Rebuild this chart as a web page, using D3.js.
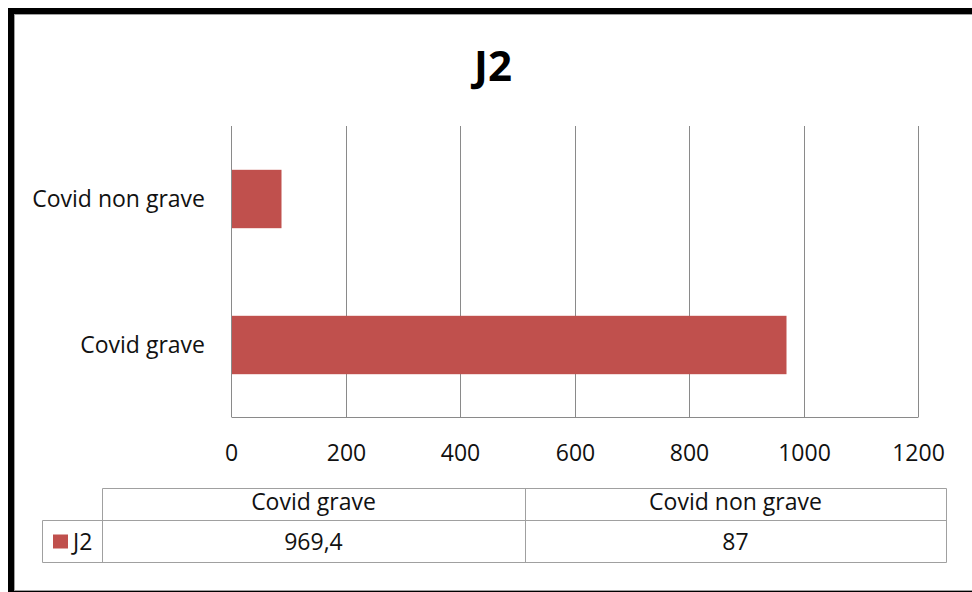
<!DOCTYPE html>
<html>
<head>
<meta charset="utf-8">
<script src="https://cdn.jsdelivr.net/npm/d3@7/dist/d3.min.js"></script>
<style>
  html, body { margin: 0; padding: 0; background: #fff; }
  svg { display: block; }
  text { font-family: "Open Sans", "Noto Sans", sans-serif; fill: #111; }
</style>
</head>
<body>
<svg id="chart" width="972" height="592"></svg>
<script>
// Data: J2 totals per category
const title = "J2";
const seriesName = "J2";
const categories = ["Covid grave", "Covid non grave"];
const values = [969.4, 87];
const xTicks = [0, 200, 400, 600, 800, 1000, 1200];

const barColor = "#C0504D";
const gridColor = "#8a8a8a";
const tableColor = "#a0a0a0";

const svg = d3.select("#chart");

// Outer frame: dark band on top/left, thin grey border around the white chart area
svg.append("rect").attr("x", 8).attr("y", 8).attr("width", 964).attr("height", 584).attr("fill", "#000");
svg.append("rect").attr("x", 14.5).attr("y", 14.5).attr("width", 980).attr("height", 576)
  .attr("fill", "#fff").attr("stroke", "#a0a0a0").attr("stroke-width", 1);

// Title
svg.append("text").attr("x", 493).attr("y", 80.5).attr("text-anchor", "middle")
  .style("font-size", "42px").style("font-weight", 700).style("fill", "#000")
  .text(title);

// Scales
const plotTop = 126, plotBottom = 417;
const x = d3.scaleLinear().domain([0, 1200]).rangeRound([231, 918]);
const rows = categories.slice().reverse(); // last category drawn at the top
const y = d3.scaleBand().domain(rows).range([plotTop, plotBottom + 1])
  .paddingInner(0.6).paddingOuter(0.3);

// Vertical gridlines + baseline
const grid = svg.append("g").attr("transform", `translate(0,${plotBottom})`)
  .call(d3.axisBottom(x).tickValues(xTicks).tickSize(-(plotBottom - plotTop)).tickSizeOuter(0).tickFormat(""));
grid.selectAll("line").attr("stroke", gridColor);
grid.select(".domain").attr("stroke", gridColor);

// Bars
svg.append("g").selectAll("rect")
  .data(categories.map((c, i) => ({ c, v: values[i] })))
  .join("rect")
  .attr("x", x(0) + 1)
  .attr("y", d => y(d.c))
  .attr("width", d => x(d.v) - x(0) - 0.5)
  .attr("height", y.bandwidth())
  .attr("fill", barColor);

// X tick labels
const xAxis = svg.append("g").attr("transform", `translate(0,${plotBottom})`)
  .call(d3.axisBottom(x).tickValues(xTicks).tickSize(0).tickPadding(0).tickFormat(d3.format("d")));
xAxis.select(".domain").remove();
xAxis.selectAll("text").attr("y", 44).attr("dy", 0)
  .style("font-size", "23px").style("font-family", "'Open Sans', sans-serif").attr("fill", "#111");

// Category labels
const yAxis = svg.append("g").attr("transform", `translate(${x(0)},0)`)
  .call(d3.axisLeft(y).tickSize(0).tickPadding(0));
yAxis.select(".domain").attr("stroke", gridColor).attr("d", `M0.5,${plotTop}V${plotBottom}`);
yAxis.selectAll("text").attr("x", -26).attr("dy", "0.35em")
  .style("font-size", "23px").style("font-family", "'Open Sans', sans-serif").attr("fill", "#111");

// Data table below the axis
const tLeft = 102.5, tRight = 946.5, legLeft = 42.5;
const hTop = 488.5, hBot = 520.5, rBot = 562.5;
const col = d3.scaleBand().domain(categories).range([tLeft, tRight]);
const table = svg.append("g").attr("stroke", tableColor).attr("stroke-width", 1).attr("fill", "none");
const hline = (x1, x2, yy) => table.append("line").attr("x1", x1).attr("x2", x2).attr("y1", yy).attr("y2", yy);
const vline = (xx, y1, y2) => table.append("line").attr("x1", xx).attr("x2", xx).attr("y1", y1).attr("y2", y2);
hline(tLeft, tRight, hTop);
hline(legLeft, tRight, hBot);
hline(legLeft, tRight, rBot);
vline(legLeft, hBot, rBot);
vline(tLeft, hTop, rBot);
categories.forEach((c, i) => { if (i > 0) vline(Math.round(col(c)) + 0.5, hTop, rBot); });
vline(tRight, hTop, rBot);

const fmt = d3.formatLocale({ decimal: ",", thousands: " ", grouping: [3], currency: ["", " €"] }).format("~g");
const cells = svg.append("g").style("font-size", "23px");
cells.selectAll("text.head").data(categories).join("text").attr("class", "head")
  .attr("x", d => col(d) + col.bandwidth() / 2).attr("y", 510).attr("text-anchor", "middle").text(d => d);
cells.selectAll("text.val").data(values).join("text").attr("class", "val")
  .attr("x", (d, i) => col(categories[i]) + col.bandwidth() / 2).attr("y", 550).attr("text-anchor", "middle")
  .text(d => fmt(d));

// Legend key in the table
svg.append("rect").attr("x", 53).attr("y", 534.5).attr("width", 15).attr("height", 14).attr("fill", barColor);
svg.append("text").attr("x", 73).attr("y", 550).style("font-size", "23px").text(seriesName);
</script>
</body>
</html>
